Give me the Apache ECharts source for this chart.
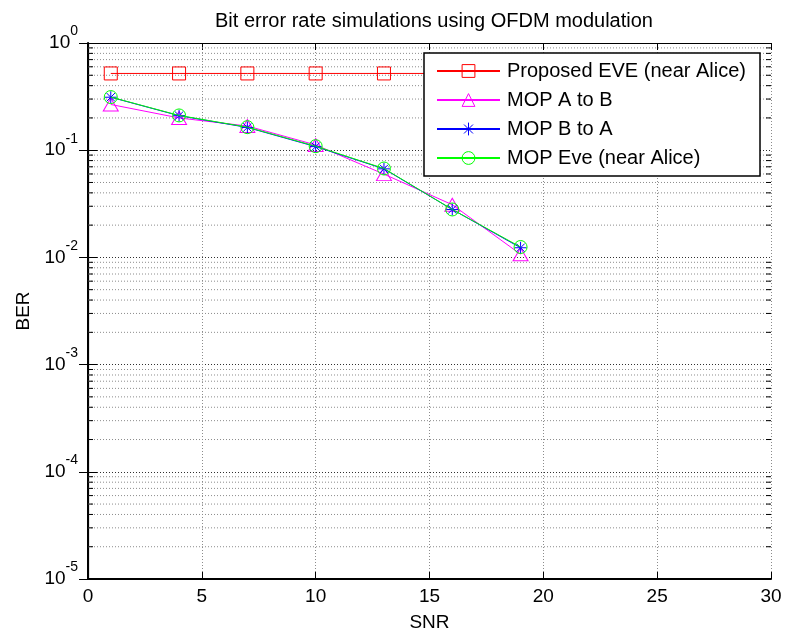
<!DOCTYPE html>
<html>
<head>
<meta charset="utf-8">
<script src="https://cdn.jsdelivr.net/npm/echarts@6/dist/echarts.min.js"></script>
<style>
html,body{margin:0;padding:0;background:#fff;}
#chart{width:785px;height:639px;}
</style>
</head>
<body>
<div id="chart"></div>
<script>
// ---- data ----
const titleText = 'Bit error rate simulations using OFDM modulation';
const xName = 'SNR';
const yName = 'BER';
const seriesNames = ['Proposed EVE (near Alice)', 'MOP A to B', 'MOP B to A', 'MOP Eve (near Alice)'];
const snr = [1, 4, 7, 10, 13, 16, 19];
const proposedEve = [0.52, 0.52, 0.52, 0.52, 0.52, 0.52, 0.52];
const mopAtoB = [0.267, 0.200, 0.168, 0.112, 0.0598, 0.031, 0.0107];
const mopBtoA = [0.312, 0.210, 0.163, 0.108, 0.067, 0.028, 0.0123];
const mopEve = [0.313, 0.211, 0.164, 0.109, 0.0675, 0.028, 0.0125];
const xTicks = [0, 5, 10, 15, 20, 25, 30];
const yDecades = [1e-5, 1e-4, 1e-3, 1e-2, 1e-1, 1];
// minor log grid values (2..9 x each decade)
const yMinor = [];
for (let d = -5; d < 0; d++) {
  for (let m = 2; m <= 9; m++) yMinor.push(m * Math.pow(10, d));
}

const FONT = '"Liberation Sans", Arial, sans-serif';
const chart = echarts.init(document.getElementById('chart'), null, {renderer: 'canvas'});

function pairs(xs, ys) { return xs.map((x, i) => [x, ys[i]]); }

const asterisk = 'path://M0,5L10,5M5,0L5,10M1.5,1.5L8.5,8.5M8.5,1.5L1.5,8.5';

const option = {
  animation: false,
  backgroundColor: '#ffffff',
  title: {
    text: titleText,
    left: 429,
    top: 6,
    textAlign: 'center',
    textStyle: {fontFamily: FONT, fontSize: 20, fontWeight: 'normal', color: '#000'}
  },
  grid: {left: 88, right: 14, top: 43, bottom: 60, containLabel: false},
  legend: {
    data: seriesNames,
    orient: 'vertical',
    left: 424,
    top: 53,
    padding: [8, 14, 8, 12],
    itemWidth: 63,
    itemHeight: 16,
    itemGap: 9,
    itemStyle: {borderWidth: 1},
    backgroundColor: '#ffffff',
    borderColor: '#000',
    borderWidth: 1.5,
    textStyle: {fontFamily: FONT, fontSize: 20, color: '#000', lineHeight: 20, padding: [0, 0, 0, 2]}
  },
  xAxis: [{
    type: 'value', position: 'bottom', min: 0, max: 30, interval: 5,
    name: xName, nameLocation: 'middle', nameGap: 34,
    nameTextStyle: {fontFamily: FONT, fontSize: 19, color: '#000'},
    axisLine: {lineStyle: {color: '#000', width: 2}},
    axisTick: {inside: true, length: 7, lineStyle: {color: '#000'}},
    axisLabel: {fontFamily: FONT, fontSize: 19, color: '#000', margin: 8,
      formatter: v => xTicks.includes(v) ? String(v) : ''},
    splitLine: {show: true, lineStyle: {color: '#8c8c8c', type: [1, 2], width: 1}}
  }, {
    type: 'value', position: 'top', min: 0, max: 30, interval: 5,
    axisLine: {show: true, lineStyle: {color: '#000', width: 1.2}},
    axisTick: {inside: true, length: 7, lineStyle: {color: '#000'}},
    axisLabel: {show: false},
    splitLine: {show: false}
  }],
  yAxis: [{
    type: 'log', logBase: 10, min: 1e-5, max: 1, position: 'left',
    name: yName, nameLocation: 'middle', nameGap: 54, nameRotate: 90,
    nameTextStyle: {fontFamily: FONT, fontSize: 19, color: '#000'},
    axisLine: {show: true, lineStyle: {color: '#000', width: 2}},
    axisTick: {show: true, inside: true, length: 9, lineStyle: {color: '#000'}},
    axisLabel: {
      margin: 10,
      formatter: v => '{b|10}{s|' + Math.round(Math.log10(v)) + '}',
      rich: {
        b: {fontFamily: FONT, fontSize: 19, color: '#000', lineHeight: 19, verticalAlign: 'bottom'},
        s: {fontFamily: FONT, fontSize: 14, color: '#000', lineHeight: 14, padding: [0, 0, 14, 0], verticalAlign: 'bottom'}
      }
    },
    splitLine: {show: true, lineStyle: {color: '#303030', type: [1, 2], width: 1}},
    minorTick: {show: false}, minorSplitLine: {show: false}
  }, {
    type: 'log', logBase: 10, min: 1e-5, max: 1, position: 'right',
    axisLine: {show: true, lineStyle: {color: '#000', width: 1.2}},
    axisTick: {show: true, inside: true, length: 9, lineStyle: {color: '#000'}},
    axisLabel: {show: false},
    splitLine: {show: false}
  }],
  series: [
    {
      type: 'custom', name: 'minorGrid', silent: true, z: 1,
      xAxisIndex: 0, yAxisIndex: 0,
      data: yMinor.map(v => [0, v]),
      renderItem: function (params, api) {
        const v = api.value(1);
        const p1 = api.coord([0, v]);
        const p2 = api.coord([30, v]);
        return {
          type: 'group',
          children: [
            {type: 'line', shape: {x1: p1[0], y1: p1[1], x2: p2[0], y2: p2[1]},
             style: {stroke: '#8c8c8c', lineWidth: 1, lineDash: [1, 2]}},
            {type: 'line', shape: {x1: p1[0], y1: p1[1], x2: p1[0] + 5, y2: p1[1]},
             style: {stroke: '#000', lineWidth: 1}},
            {type: 'line', shape: {x1: p2[0] - 5, y1: p2[1], x2: p2[0], y2: p2[1]},
             style: {stroke: '#000', lineWidth: 1}}
          ]
        };
      }
    },
    {
      name: seriesNames[0], type: 'line', data: pairs(snr, proposedEve), z: 3,
      symbol: 'rect', symbolSize: 13,
      lineStyle: {color: '#ff0000', width: 1},
      itemStyle: {color: 'rgba(0,0,0,0)', borderColor: '#ff0000', borderWidth: 1}
    },
    {
      name: seriesNames[1], type: 'line', data: pairs(snr, mopAtoB), z: 4,
      symbol: 'triangle', symbolSize: [15, 13],
      lineStyle: {color: '#ff00ff', width: 1},
      itemStyle: {color: 'rgba(0,0,0,0)', borderColor: '#ff00ff', borderWidth: 1}
    },
    {
      name: seriesNames[2], type: 'line', data: pairs(snr, mopBtoA), z: 5,
      symbol: asterisk, symbolSize: 12,
      lineStyle: {color: '#0000ff', width: 1},
      itemStyle: {color: 'rgba(0,0,0,0)', borderColor: '#0000ff', borderWidth: 1}
    },
    {
      name: seriesNames[3], type: 'line', data: pairs(snr, mopEve), z: 6,
      symbol: 'circle', symbolSize: 13,
      lineStyle: {color: '#00ff00', width: 1},
      itemStyle: {color: 'rgba(0,0,0,0)', borderColor: '#00ff00', borderWidth: 1}
    }
  ]
};
chart.setOption(option);
</script>
</body>
</html>
